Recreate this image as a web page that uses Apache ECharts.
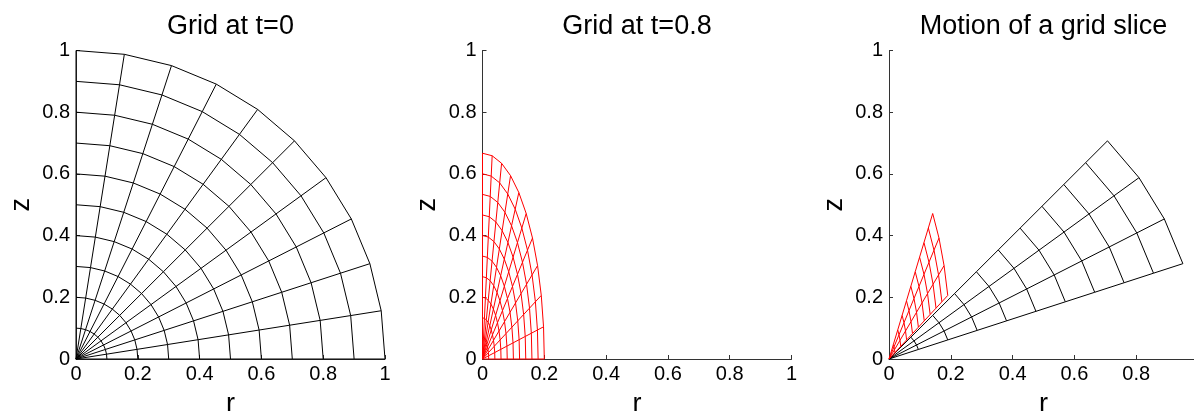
<!DOCTYPE html>
<html>
<head>
<meta charset="utf-8">
<script src="https://cdn.jsdelivr.net/npm/echarts@6/dist/echarts.min.js"></script>
<style>
html,body{margin:0;padding:0;background:#fff;}
#chart{width:1194px;height:411px;}
</style>
</head>
<body>
<div id="chart"></div>
<script>
// ---- data ----
const titles = ['Grid at t=0', 'Grid at t=0.8', 'Motion of a grid slice'];
const ringRadii = [0.1, 0.2, 0.3, 0.4, 0.5, 0.6, 0.7, 0.8, 0.9, 1.0];
const rayAnglesDeg = [0, 9, 18, 27, 36, 45, 54, 63, 72, 81, 90];
const sliceAnglesDeg = [18, 27, 36, 45];
const stretchT0 = [1, 1];          // (r, z) scale of the grid at t=0
const stretchT08 = [0.2, 0.667];   // (r, z) scale of the grid at t=0.8
const axisTicks = [0, 0.2, 0.4, 0.6, 0.8, 1];

// ---- build mesh polylines from grid nodes ----
function node(r, aDeg, s) {
  const a = aDeg * Math.PI / 180;
  return [s[0] * r * Math.cos(a), s[1] * r * Math.sin(a)];
}
function mesh(radii, angles, s) {
  const out = [];
  angles.forEach(a => {
    out.push({coords: [[0, 0]].concat(radii.map(r => node(r, a, s)))});
  });
  radii.forEach(r => {
    out.push({coords: angles.map(a => node(r, a, s))});
  });
  return out;
}

const FONT = '"Liberation Sans", Arial, Helvetica, sans-serif';
const panels = [
  {left: 76, width: 309},
  {left: 482.5, width: 309},
  {left: 889, width: 309}
];
const gridTop = 50.5, gridHeight = 308.5;

function xAx(i, hideMax) {
  return {
    type: 'value', gridIndex: i, min: axisTicks[0], max: axisTicks[axisTicks.length - 1],
    interval: axisTicks[1] - axisTicks[0],
    name: 'r', nameLocation: 'middle', nameGap: 32,
    nameTextStyle: {fontFamily: FONT, fontSize: 27, color: '#000'},
    axisLine: {show: true, onZero: false, lineStyle: {color: '#333', width: 1}},
    axisTick: {show: true, inside: true, length: 4, lineStyle: {color: '#333'}},
    splitLine: {show: false},
    axisLabel: {fontFamily: FONT, fontSize: 20, color: '#000', margin: 5, showMaxLabel: !hideMax}
  };
}
function yAx(i) {
  return {
    type: 'value', gridIndex: i, min: axisTicks[0], max: axisTicks[axisTicks.length - 1],
    interval: axisTicks[1] - axisTicks[0],
    name: 'z', nameLocation: 'middle', nameGap: 41,
    nameTextStyle: {fontFamily: FONT, fontSize: 27, color: '#000'},
    axisLine: {show: true, onZero: false, lineStyle: {color: '#333', width: 1}},
    axisTick: {show: true, inside: true, length: 4, lineStyle: {color: '#333'}},
    splitLine: {show: false},
    axisLabel: {fontFamily: FONT, fontSize: 20, color: '#000', margin: 6}
  };
}
function linesSeries(i, color, data) {
  return {
    type: 'lines', coordinateSystem: 'cartesian2d', xAxisIndex: i, yAxisIndex: i,
    polyline: true, silent: true, animation: false, clip: false,
    lineStyle: {color: color, width: 1, opacity: 1, curveness: 0},
    data: data
  };
}

const option = {
  animation: false,
  backgroundColor: '#fff',
  title: titles.map((t, i) => ({
    text: t, left: panels[i].left + panels[i].width / 2, top: 13, textAlign: 'center', padding: 0,
    textStyle: {fontFamily: FONT, fontSize: 27, fontWeight: 'normal', color: '#000'}
  })),
  grid: panels.map(p => ({left: p.left, top: gridTop, width: p.width, height: gridHeight,
    containLabel: false, outerBoundsMode: 'none'})),
  xAxis: [xAx(0, false), xAx(1, false), xAx(2, true)],
  yAxis: [yAx(0), yAx(1), yAx(2)],
  series: [
    linesSeries(0, '#000', mesh(ringRadii, rayAnglesDeg, stretchT0)),
    linesSeries(1, '#ff0000', mesh(ringRadii, rayAnglesDeg, stretchT08)),
    linesSeries(2, '#000', mesh(ringRadii, sliceAnglesDeg, stretchT0)),
    linesSeries(2, '#ff0000', mesh(ringRadii, sliceAnglesDeg, stretchT08))
  ]
};
const chart = echarts.init(document.getElementById('chart'), null, {renderer: 'canvas'});
chart.setOption(option);
</script>
</body>
</html>
